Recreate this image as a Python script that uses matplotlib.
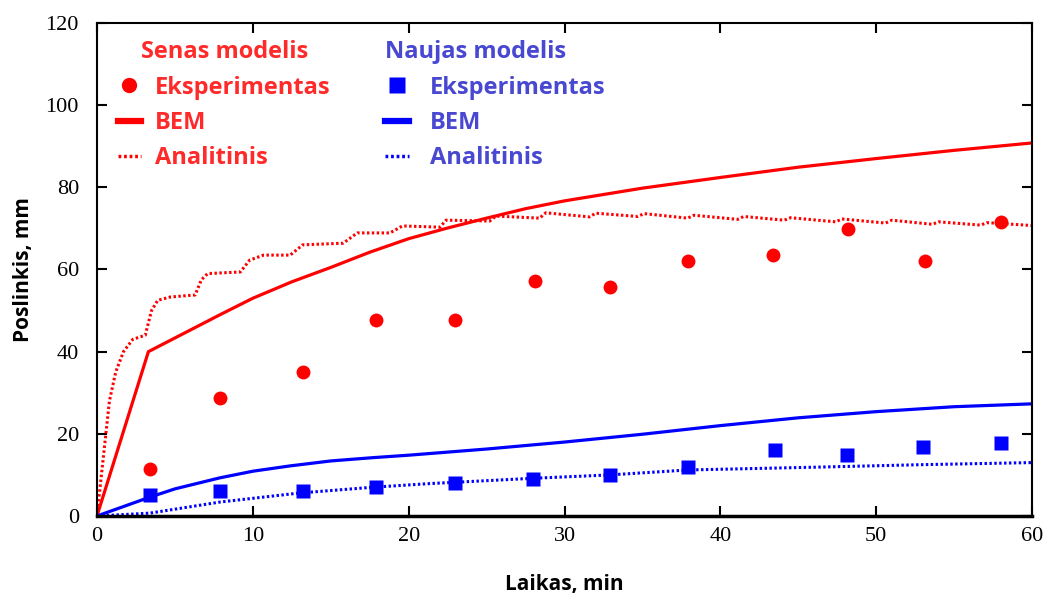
import matplotlib
matplotlib.use("Agg")
import matplotlib.pyplot as plt
from matplotlib.lines import Line2D

# Senas modelis (old model)
old_exp_t = [3.4, 7.9, 13.2, 17.9, 23.0, 28.1, 32.9, 37.9, 43.4, 48.2, 53.1, 58.0]
old_exp_y = [11.4, 28.7, 35.0, 47.7, 47.7, 57.2, 55.7, 62.0, 63.5, 69.9, 62.0, 71.5]

old_bem_t = [0, 3.3, 7.9, 10, 12.5, 15, 17.5, 20, 22.5, 25, 27.5, 30, 35, 40, 45, 50, 55, 60]
old_bem_y = [0, 40, 49, 53, 57, 60.5, 64.2, 67.5, 70.1, 72.5, 74.8, 76.7, 79.8, 82.4,
             84.9, 87.0, 89.0, 90.8]

old_an_t = [0, 0.4, 0.8, 1.2, 1.7, 2.3, 3.1, 3.5, 3.9, 4.7, 6.3, 6.7, 7.1, 9.2, 9.8,
            10.7, 12.4, 13.2, 15.8, 16.7, 18.8, 19.6, 22.0, 22.4, 25.2, 25.6, 28.4,
            28.8, 31.6, 32.0, 34.7, 35.1, 37.9, 38.3, 41.1, 41.5, 44.1, 44.5, 47.4,
            47.8, 50.6, 51.0, 53.6, 54.0, 56.7, 57.1, 60]
old_an_y = [0, 14, 28, 35, 40, 43, 44, 50, 52.5, 53.3, 53.8, 57.5, 59, 59.4, 62.3,
            63.5, 63.5, 66, 66.4, 68.9, 68.9, 70.6, 70.3, 72.0, 71.8, 73.0, 72.5,
            73.8, 72.8, 73.7, 72.9, 73.6, 72.5, 73.2, 72.2, 72.9, 72.0, 72.6, 71.6,
            72.3, 71.3, 72.0, 71.0, 71.6, 70.8, 71.4, 70.7]

# Naujas modelis (new model)
new_exp_t = [3.4, 7.9, 13.2, 17.9, 23.0, 28.0, 32.9, 37.9, 43.5, 48.1, 53.0, 58.0]
new_exp_y = [5.1, 6.0, 6.0, 7.0, 8.0, 8.9, 9.9, 11.9, 16.1, 14.9, 16.9, 17.8]

new_bem_t = [0, 3.4, 5, 7.9, 10, 12.4, 15, 17.7, 20, 25, 30, 35, 40, 45, 50, 55, 60]
new_bem_y = [0, 4.6, 6.6, 9.3, 10.9, 12.2, 13.4, 14.2, 14.8, 16.3, 18.0, 19.9, 22.0,
             23.9, 25.4, 26.6, 27.3]

new_an_t = [0, 3.4, 7.9, 13, 17.7, 21.4, 28.1, 32.9, 37.9, 46.3, 53, 60]
new_an_y = [0, 0.7, 3.4, 5.6, 7.0, 7.9, 9.2, 10.0, 11.2, 11.9, 12.5, 13.0]

RED = "#ff0000"
BLUE = "#0000ff"
RED_TXT = "#ff2a2a"
BLUE_TXT = "#4848d2"
DOT = (0, (0.8, 0.8))

fig = plt.figure(figsize=(10.46, 6.0), dpi=100)
ax = fig.add_axes([0.0927, 0.14, 0.894, 0.8217])

ax.plot(old_bem_t, old_bem_y, color=RED, lw=2.3)
ax.plot(old_an_t, old_an_y, color=RED, lw=2.2, ls=DOT)
ax.plot(old_exp_t, old_exp_y, "o", color=RED, ms=10, mec="none")
ax.plot(new_bem_t, new_bem_y, color=BLUE, lw=2.3)
ax.plot(new_an_t, new_an_y, color=BLUE, lw=2.2, ls=DOT)
ax.plot(new_exp_t, new_exp_y, "s", color=BLUE, ms=10, mec="none")

ax.set_xlim(0, 60)
ax.set_ylim(0, 120)
ax.set_xticks(range(0, 61, 10))
ax.set_yticks(range(0, 121, 20))
ax.tick_params(direction="in", length=7, width=1.5, top=True, right=True,
               labelsize=16, pad=8)
ax.tick_params(axis="y", pad=13)
for lbl in ax.get_xticklabels() + ax.get_yticklabels():
    lbl.set_fontfamily("Liberation Serif")
for side in ["left", "right", "top"]:
    ax.spines[side].set_linewidth(1.5)
ax.spines["bottom"].set_linewidth(2.5)

ax.set_xlabel("Laikas, min", fontfamily="Open Sans", fontweight="bold",
              fontsize=15, labelpad=20)
ax.set_ylabel("Poslinkis, mm", fontfamily="Open Sans", fontweight="bold",
              fontsize=15, labelpad=8)

leg_font = {"family": "Open Sans", "weight": "bold", "size": 17}


def make_legend(color, txt_color, marker, title, anchor, align, textpad):
    handles = [
        Line2D([], [], ls="none", marker=marker, color=color, ms=11, mec="none"),
        Line2D([], [], color=color, lw=4.5),
        Line2D([], [], color=color, lw=2.5, ls=DOT),
    ]
    leg = ax.legend(handles, ["Eksperimentas", "BEM", "Analitinis"],
                    loc="upper left", bbox_to_anchor=anchor, frameon=False,
                    prop=leg_font, title=title, title_fontproperties=leg_font,
                    labelcolor=txt_color, handlelength=1.0, handletextpad=textpad,
                    labelspacing=0.48, borderpad=0, borderaxespad=0,
                    alignment=align)
    leg.get_title().set_color(txt_color)
    return leg


leg1 = make_legend(RED, RED_TXT, "o", "Senas modelis", (0.022, 0.965), "center", 0.6)
ax.add_artist(leg1)
make_legend(BLUE, BLUE_TXT, "s", "Naujas modelis", (0.308, 0.965), "left", 0.9)

fig.savefig("out.png", dpi=100)
